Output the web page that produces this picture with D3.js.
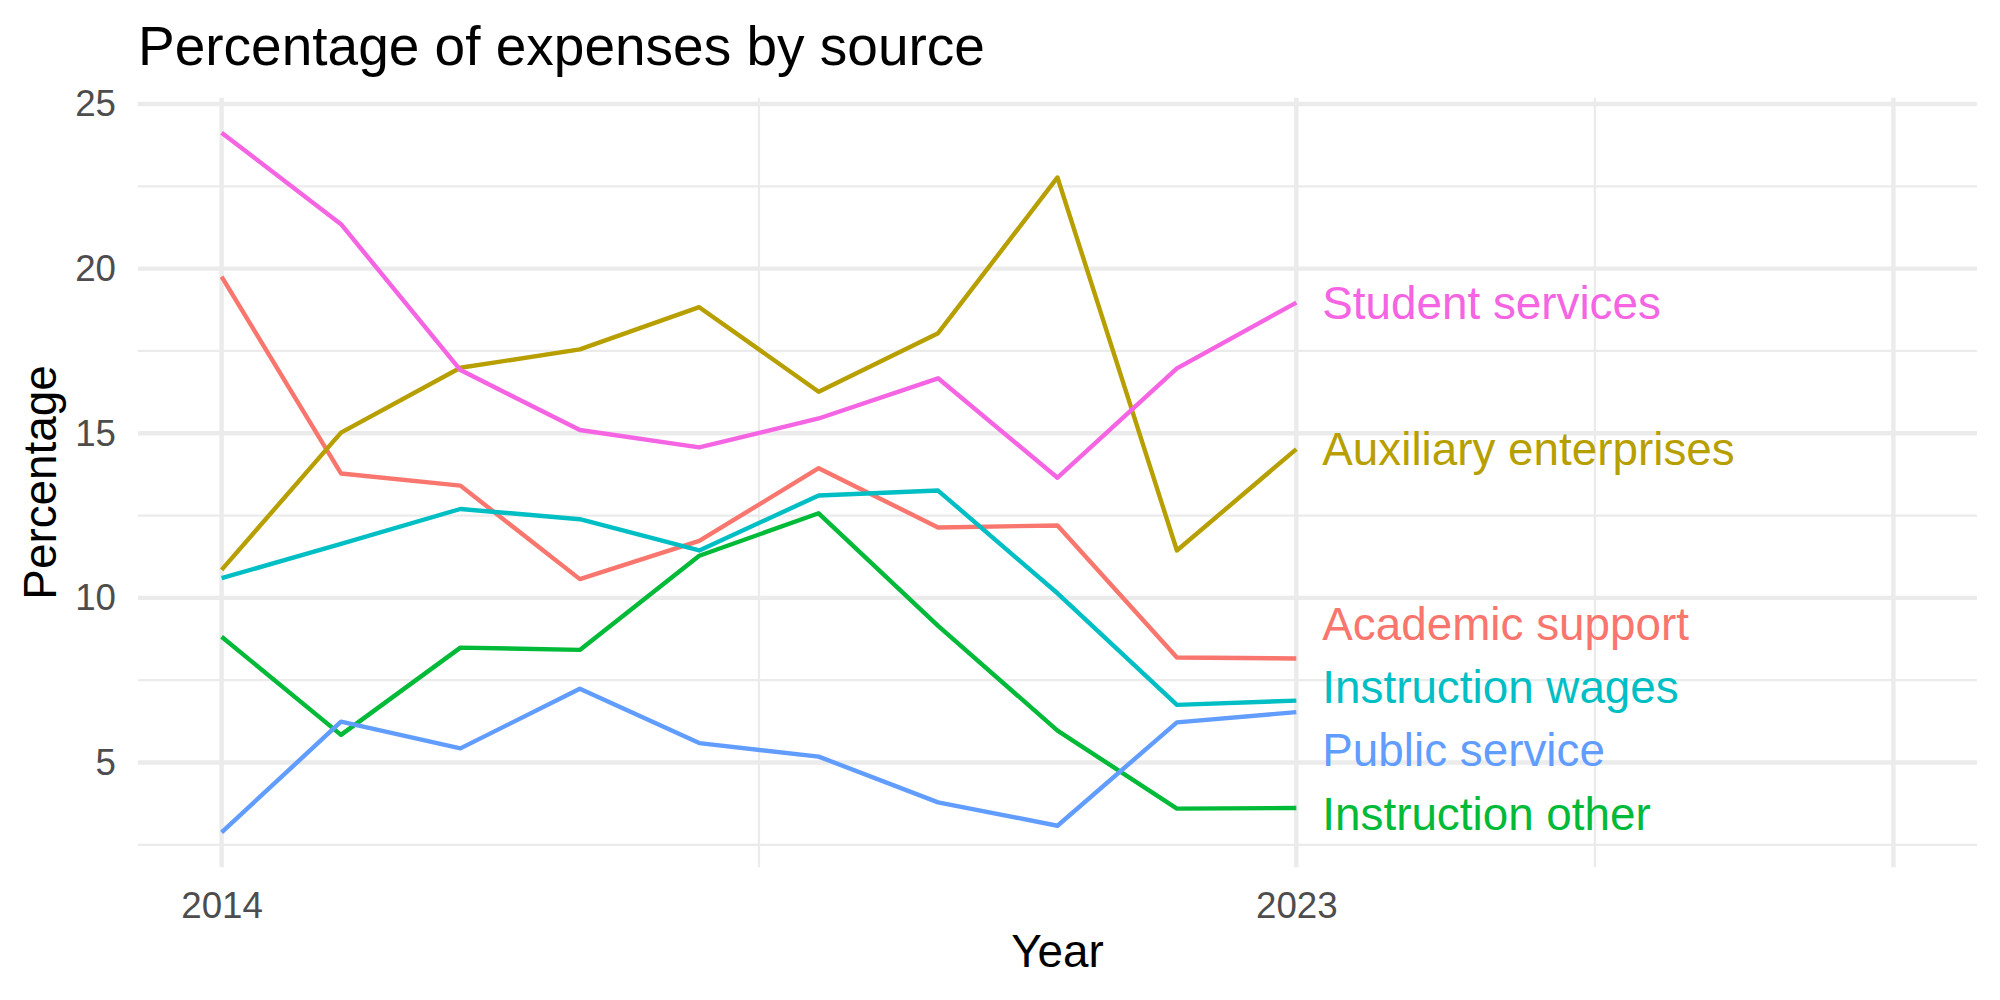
<!DOCTYPE html>
<meta charset="UTF-8">
<style>
  body { margin: 0; background: #fff; }
  text { font-family: "Liberation Sans", Arial, sans-serif; }
  .grid-major { stroke: #ebebeb; stroke-width: 4.4px; }
  .grid-minor { stroke: #ebebeb; stroke-width: 2.2px; }
  .series { fill: none; stroke-width: 4.4px; stroke-linejoin: round; }
  .tick text { fill: #4d4d4d; font-size: 36.7px; }
</style>
<body>
<svg id="chart" width="2000" height="1000"></svg>

<script src="https://cdn.jsdelivr.net/npm/d3@7"></script>
<script>

// data
var years = [2014, 2015, 2016, 2017, 2018, 2019, 2020, 2021, 2022, 2023];

var seriesNames = ["Academic support", "Auxiliary enterprises", "Instruction other",
                   "Instruction wages", "Public service", "Student services"];

var academicSupport      = [19.76, 13.78, 13.41, 10.57, 11.73, 13.94, 12.14, 12.20, 8.19, 8.16];
var auxiliaryEnterprises = [10.85, 15.02, 16.99, 17.55, 18.83, 16.26, 18.04, 22.77, 11.44, 14.52];
var instructionOther     = [8.82, 5.84, 8.49, 8.42, 11.28, 12.57, 9.15, 5.97, 3.60, 3.62];
var instructionWages     = [10.60, 11.64, 12.70, 12.39, 11.44, 13.11, 13.26, 10.14, 6.75, 6.88];
var publicService        = [2.88, 6.24, 5.43, 7.24, 5.59, 5.18, 3.79, 3.08, 6.22, 6.53];
var studentServices      = [24.13, 21.35, 16.92, 15.10, 14.57, 15.45, 16.67, 13.65, 16.97, 18.97];

// end labels are pushed apart (repelled) so they do not overlap
var labelValues = [9.21, 14.53, 3.45, 7.31, 5.40, 18.97];

var xLimits = [2014, 2028];
var xBreaks = [2014, 2023, 2028];
var xTickLabels = ["2014", "2023", ""];
var xMinorBreaks = [2018.5, 2025.5];
var yBreaks = [5, 10, 15, 20, 25];
var yMinorBreaks = [2.5, 7.5, 12.5, 17.5, 22.5];

var colors = ["#F8766D", "#B79F00", "#00BA38", "#00BFC4", "#619CFF", "#F564E3"];

var seriesValues = [academicSupport, auxiliaryEnterprises, instructionOther,
                    instructionWages, publicService, studentServices];

// panel box
var margin = {top: 97.7, right: 23, bottom: 132.7, left: 138},
    width = 2000 - margin.left - margin.right,
    height = 1000 - margin.top - margin.bottom;

var svg = d3.select("#chart");
var g = svg.append("g")
    .attr("transform", "translate(" + margin.left + "," + margin.top + ")");

// ggplot style 5% expansion
function expand(lim) {
  var d = (lim[1] - lim[0]) * 0.05;
  return [lim[0] - d, lim[1] + d];
}

var allValues = d3.merge(seriesValues);

var x = d3.scaleLinear()
    .domain(expand(xLimits))
    .range([0, width]);

var y = d3.scaleLinear()
    .domain(expand(d3.extent(allValues)))
    .range([height, 0]);

// grid
g.selectAll(".gy-minor").data(yMinorBreaks).enter().append("line")
    .attr("class", "grid-minor")
    .attr("x1", 0).attr("x2", width)
    .attr("y1", function(d) { return y(d); })
    .attr("y2", function(d) { return y(d); });

g.selectAll(".gx-minor").data(xMinorBreaks).enter().append("line")
    .attr("class", "grid-minor")
    .attr("y1", 0).attr("y2", height)
    .attr("x1", function(d) { return x(d); })
    .attr("x2", function(d) { return x(d); });

g.selectAll(".gy-major").data(yBreaks).enter().append("line")
    .attr("class", "grid-major")
    .attr("x1", 0).attr("x2", width)
    .attr("y1", function(d) { return y(d); })
    .attr("y2", function(d) { return y(d); });

g.selectAll(".gx-major").data(xBreaks).enter().append("line")
    .attr("class", "grid-major")
    .attr("y1", 0).attr("y2", height)
    .attr("x1", function(d) { return x(d); })
    .attr("x2", function(d) { return x(d); });

// axes (labels only)
var xAxis = g.append("g")
    .attr("transform", "translate(0," + height + ")")
    .call(d3.axisBottom(x)
      .tickValues(xBreaks)
      .tickFormat(function(d, i) { return xTickLabels[i]; })
      .tickSize(0)
      .tickPadding(24.7));

var yAxis = g.append("g")
    .call(d3.axisLeft(y)
      .tickValues(yBreaks)
      .tickFormat(d3.format("d"))
      .tickSize(0)
      .tickPadding(22));

[xAxis, yAxis].forEach(function(a) {
  a.select(".domain").remove();
  a.attr("font-family", null).attr("font-size", null);
});

// lines
var line = d3.line()
    .x(function(d, i) { return x(years[i]); })
    .y(function(d) { return y(d); });

g.selectAll(".series")
  .data(seriesValues)
  .enter().append("path")
    .attr("class", "series")
    .attr("stroke", function(d, i) { return colors[i]; })
    .attr("d", line);

// end labels
var labelSize = 45.8;
g.selectAll(".end-label")
  .data(seriesNames)
  .enter().append("text")
    .attr("class", "end-label")
    .attr("x", x(years[years.length - 1]) + 26)
    .attr("y", function(d, i) { return y(labelValues[i]) + labelSize * 0.358; })
    .attr("fill", function(d, i) { return colors[i]; })
    .style("font-size", labelSize + "px")
    .text(function(d) { return d; });

// titles
svg.append("text")
    .attr("x", margin.left)
    .attr("y", 65)
    .style("font-size", "55px")
    .attr("fill", "#000")
    .text("Percentage of expenses by source");

svg.append("text")
    .attr("x", margin.left + width / 2)
    .attr("y", 967)
    .attr("text-anchor", "middle")
    .style("font-size", "45.8px")
    .attr("fill", "#000")
    .text("Year");

svg.append("text")
    .attr("transform", "translate(56," + (margin.top + height / 2) + ") rotate(-90)")
    .attr("text-anchor", "middle")
    .style("font-size", "45.8px")
    .attr("fill", "#000")
    .text("Percentage");

</script>
</body>
